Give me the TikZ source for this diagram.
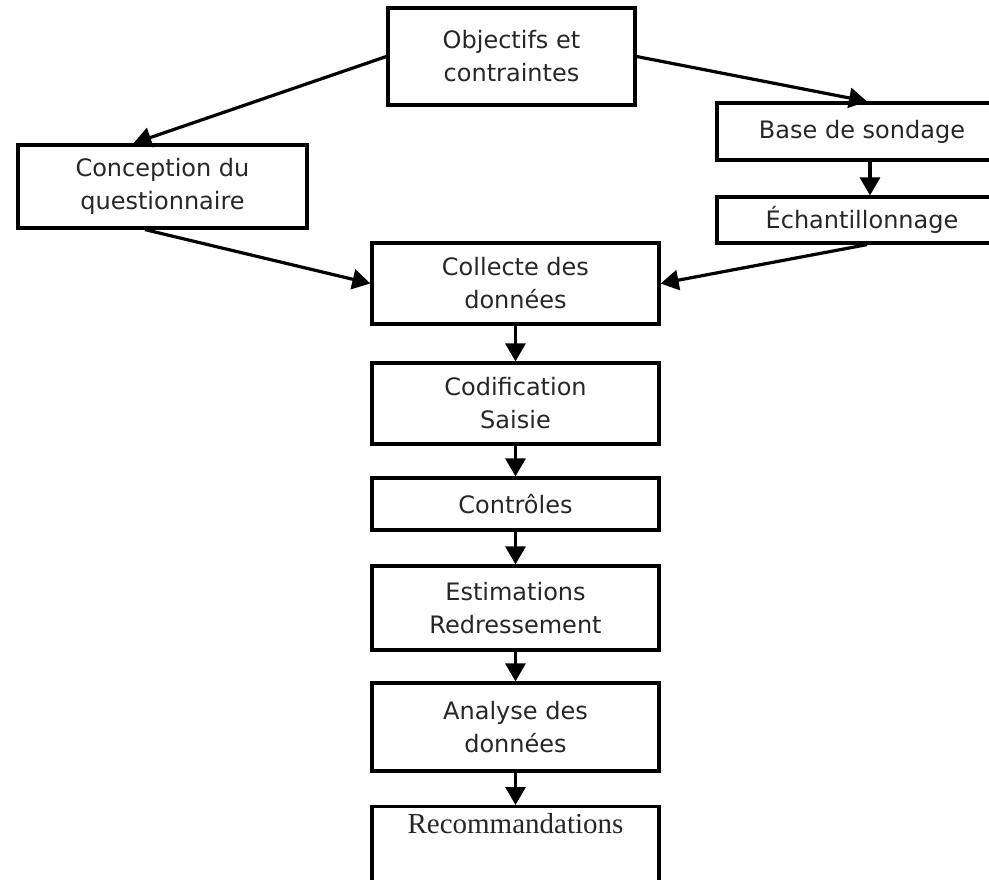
\documentclass[tikz,border=0pt]{standalone}
\usepackage{fontspec}
\setmainfont{DejaVu Sans}
\newfontfamily\recfont{Liberation Serif}
\usetikzlibrary{arrows.meta,calc}
\begin{document}
\begin{tikzpicture}[x=1pt,y=-1pt,
  box/.style={draw,line width=3.2pt,align=center,inner sep=0pt,text=black!85,
    font=\fontsize{24}{33}\selectfont},
  arr/.style={line width=3.2pt,-{Triangle[length=18pt,width=20pt]}}]
  \clip (0,0) rectangle (989,880);

  \node[box,minimum width=247pt,minimum height=97pt] (obj) at (511.5,56.5) {Objectifs et\\contraintes};
  \node[box,minimum width=289pt,minimum height=83pt] (conc) at (162.5,186.5) {Conception du\\questionnaire};
  \node[box,minimum width=290pt,minimum height=57pt] (base) at (862,131.5) {Base de sondage};
  \node[box,minimum width=290pt,minimum height=46pt] (ech) at (862,220) {Échantillonnage};
  \node[box,minimum width=287pt,minimum height=81pt] (coll) at (515.5,283.5) {Collecte des\\données};
  \node[box,minimum width=287pt,minimum height=81pt] (codif) at (515.5,403.5) {Codification\\Saisie};
  \node[box,minimum width=287pt,minimum height=52pt] (ctrl) at (515.5,504) {Contrôles};
  \node[box,minimum width=287pt,minimum height=84pt] (estim) at (515.5,608) {Estimations\\Redressement};
  \node[box,minimum width=287pt,minimum height=88pt] (anal) at (515.5,727) {Analyse des\\données};
  \node[box,minimum width=287pt,inner ysep=5pt,text height=22pt,text depth=70pt,
    font=\recfont\fontsize{29}{33}\selectfont,anchor=north] (recom) at (515.5,805) {Recommandations};

  \draw[arr] (obj.west) -- ($(conc.north west)!0.4!(conc.north east)$);
  \draw[arr] (obj.east) -- ($(base.north)+(5,0)$);
  \draw[arr] ($(base.south)+(8,0)$) -- ($(ech.north)+(8,0)$);
  \draw[arr] ($(conc.south west)!0.44!(conc.south east)$) -- (coll.west);
  \draw[arr] ($(ech.south)+(5,0)$) -- (coll.east);
  \draw[arr] (coll.south) -- (codif.north);
  \draw[arr] (codif.south) -- (ctrl.north);
  \draw[arr] (ctrl.south) -- (estim.north);
  \draw[arr] (estim.south) -- (anal.north);
  \draw[arr] (anal.south) -- (recom.north);
\end{tikzpicture}
\end{document}
